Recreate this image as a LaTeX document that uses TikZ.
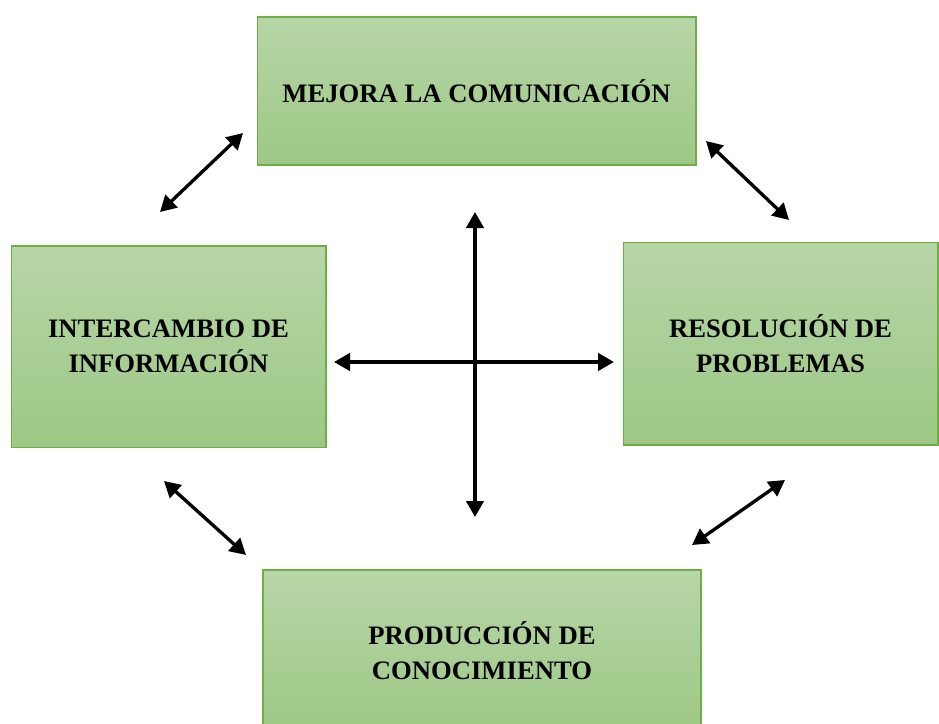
\documentclass[tikz,border=0pt]{standalone}
\usepackage{fontspec}
\setmainfont{Liberation Serif}
\usetikzlibrary{arrows.meta}
\definecolor{boxtop}{RGB}{183,214,167}
\definecolor{boxbottom}{RGB}{157,200,133}
\definecolor{boxline}{RGB}{112,173,71}
\tikzset{
	ideabox/.style={rectangle, draw=boxline, line width=1pt, top color=boxtop, bottom color=boxbottom,
		align=center, inner sep=0pt, font=\fontsize{20}{26.5}\selectfont\bfseries},
	link/.style={black, line width=2.5pt, {Triangle[length=12pt,width=13pt]}-{Triangle[length=12pt,width=13pt]}}
}
\begin{document}
\begin{tikzpicture}[x=0.75pt,y=-0.75pt]
	\useasboundingbox (0,0) rectangle (939,724);
	
	% the four boxes
	\node[ideabox, minimum width=329pt, minimum height=111pt] at (476.5,91) (comm) {MEJORA LA COMUNICACIÓN};
	\node[ideabox, minimum width=236pt, minimum height=151pt] at (168.5,346.5) (info) {INTERCAMBIO DE\\INFORMACIÓN};
	\node[ideabox, minimum width=236pt, minimum height=152pt] at (780.5,343.5) (prob) {RESOLUCIÓN DE\\PROBLEMAS};
	\node[ideabox, minimum width=328.5pt, minimum height=121pt] at (482,650.5) (know) {PRODUCCIÓN DE\\CONOCIMIENTO};
	
	% arrow ends
	\coordinate (tl1) at (243,133);
	\coordinate (tl2) at (160,212);
	\coordinate (tr1) at (706,141);
	\coordinate (tr2) at (789,220);
	\coordinate (bl1) at (164,481);
	\coordinate (bl2) at (246,555);
	\coordinate (br1) at (785,480);
	\coordinate (br2) at (692,545);
	\coordinate (up) at (475,212);
	\coordinate (down) at (475,517);
	\coordinate (west) at (334,362);
	\coordinate (east) at (614,362);
	
	\draw[link] (tl1) -- (tl2);
	\draw[link] (tr1) -- (tr2);
	\draw[link] (bl1) -- (bl2);
	\draw[link] (br1) -- (br2);
	\draw[link] (up) -- (down);
	\draw[link] (west) -- (east);
\end{tikzpicture}
\end{document}
